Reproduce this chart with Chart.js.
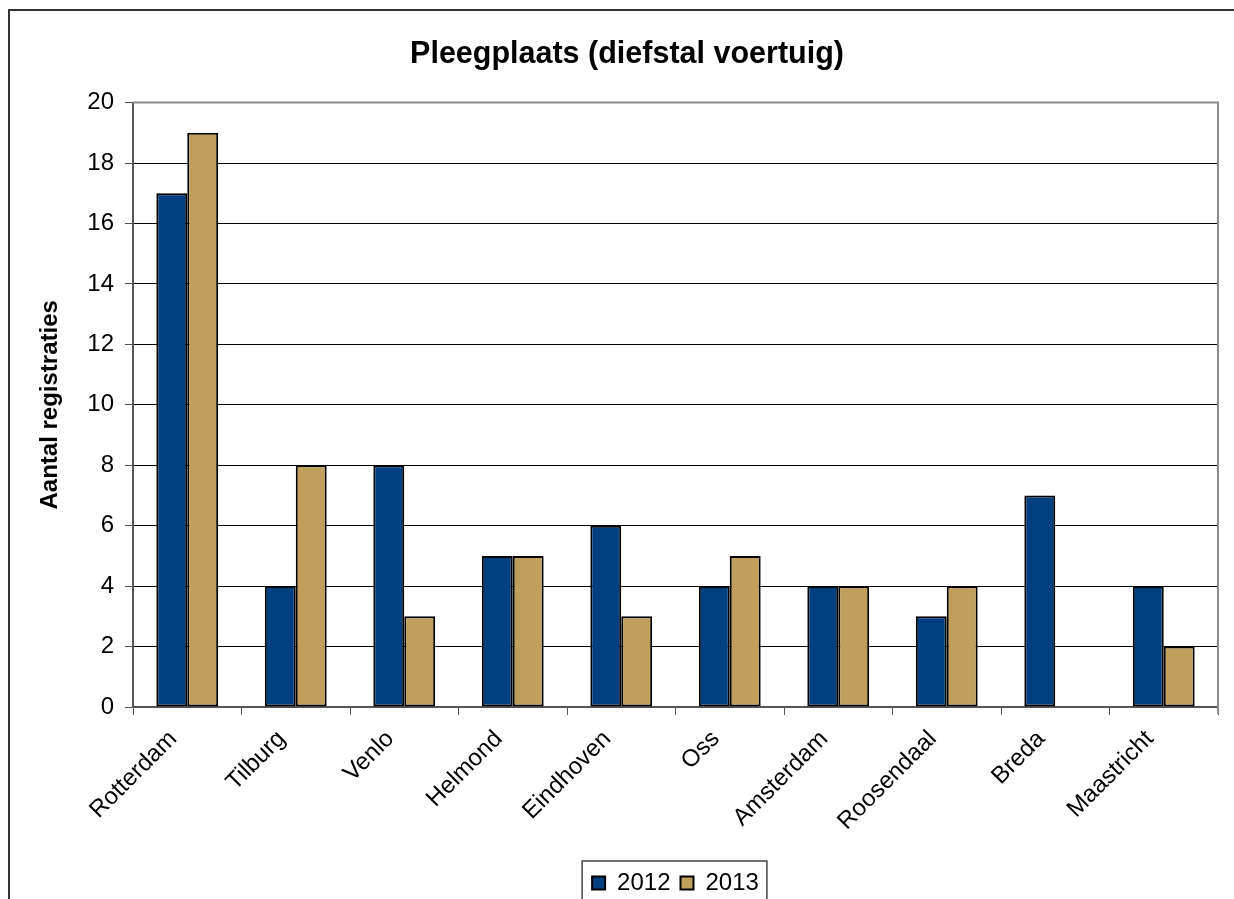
<!DOCTYPE html>
<html>
<head>
<meta charset="utf-8">
<script src="https://cdn.jsdelivr.net/npm/chart.js@4.4.1/dist/chart.umd.min.js"></script>
<style>
  html, body { margin: 0; padding: 0; background: #fff; overflow: hidden; }
  #wrap { position: relative; width: 1234px; height: 899px; }
  #frame { position: absolute; left: 8px; top: 9px; width: 1300px; height: 1000px;
           border: 2px solid #333; box-sizing: border-box; pointer-events: none; }
</style>
</head>
<body>
<div id="wrap">
  <canvas id="chart"></canvas>
  <div id="frame"></div>
</div>
<script>
// waarden
const plaatsen = ['Rotterdam', 'Tilburg', 'Venlo', 'Helmond', 'Eindhoven', 'Oss',
                  'Amsterdam', 'Roosendaal', 'Breda', 'Maastricht'];
const jaren = ['2012', '2013'];
const aantal2012 = [17, 4, 8, 5, 6, 4, 4, 3, 7, 4];
const aantal2013 = [19, 8, 3, 5, 3, 5, 4, 4, null, 2];
const yTicks = [0, 2, 4, 6, 8, 10, 12, 14, 16, 18, 20];

const FONT = '"Liberation Sans", Arial, sans-serif';

// rand om het plotgebied en om de legenda
const framePlugin = {
    id: 'framePlugin',
    afterDraw(chart) {
        const ctx = chart.ctx;
        const a = chart.chartArea;
        ctx.save();
        ctx.strokeStyle = '#8c8c8c';
        ctx.lineWidth = 2;
        ctx.beginPath();
        ctx.moveTo(a.left, a.top);
        ctx.lineTo(a.right, a.top);
        ctx.lineTo(a.right, a.bottom + 7);
        ctx.stroke();

        const boxes = chart.legend.legendHitBoxes;
        if (boxes && boxes.length) {
            const minX = Math.min(...boxes.map(b => b.left));
            const maxX = Math.max(...boxes.map(b => b.left + b.width));
            const top = Math.min(...boxes.map(b => b.top));
            ctx.strokeStyle = '#444';
            ctx.lineWidth = 1.5;
            ctx.strokeRect(minX - 10, top - 10, maxX - minX + 18, 100);
        }
        ctx.restore();
    }
};

const ctx = document.getElementById('chart').getContext('2d');
new Chart(ctx, {
    type: 'bar',
    data: {
        labels: plaatsen,
        datasets: [{
            label: jaren[0],
            data: aantal2012,
            backgroundColor: '#004080',
            borderColor: '#000',
            borderWidth: 2,
            borderSkipped: false
        }, {
            label: jaren[1],
            data: aantal2013,
            backgroundColor: '#BF9F5A',
            borderColor: '#000',
            borderWidth: 2,
            borderSkipped: false
        }]
    },
    options: {
        responsive: true,
        maintainAspectRatio: false,
        animation: false,
        categoryPercentage: 0.57,
        barPercentage: 1.0,
        layout: { padding: { left: 36, right: 16, top: 36, bottom: -6 } },
        plugins: {
            title: {
                display: true,
                text: 'Pleegplaats (diefstal voertuig)',
                color: '#000',
                font: { family: FONT, size: 30.5, weight: 'bold' },
                padding: { top: 0, bottom: 30 }
            },
            legend: {
                position: 'bottom',
                fullSize: false,
                labels: {
                    color: '#000',
                    font: { family: FONT, size: 24 },
                    boxWidth: 13,
                    boxHeight: 13,
                    padding: 10,
                    useBorderRadius: false
                }
            },
            tooltip: { enabled: false }
        },
        scales: {
            x: {
                grid: {
                    drawOnChartArea: false,
                    drawTicks: true,
                    tickLength: 8,
                    color: '#555',
                    offset: true
                },
                border: { color: '#555', width: 2 },
                ticks: {
                    color: '#000',
                    font: { family: FONT, size: 24 },
                    maxRotation: 45,
                    minRotation: 45,
                    padding: 10,
                    labelOffset: -14
                },
                afterFit(scale) { scale.height = 154; }
            },
            y: {
                min: 0,
                max: 20,
                afterBuildTicks(scale) { scale.ticks = yTicks.map(v => ({ value: v })); },
                grid: {
                    color: ctx => ctx.tick && ctx.tick.value === 20 ? '#8c8c8c' : '#000',
                    tickColor: '#555',
                    tickLength: 8,
                    lineWidth: 1
                },
                border: { color: '#555', width: 2 },
                ticks: {
                    color: '#000',
                    font: { family: FONT, size: 24 },
                    padding: 11
                },
                title: {
                    display: true,
                    text: 'Aantal registraties',
                    color: '#000',
                    font: { family: FONT, size: 24, weight: 'bold' },
                    padding: { top: 0, bottom: 14 }
                },
                afterFit(scale) { scale.width = 97; }
            }
        }
    },
    plugins: [framePlugin]
});
</script>
</body>
</html>
